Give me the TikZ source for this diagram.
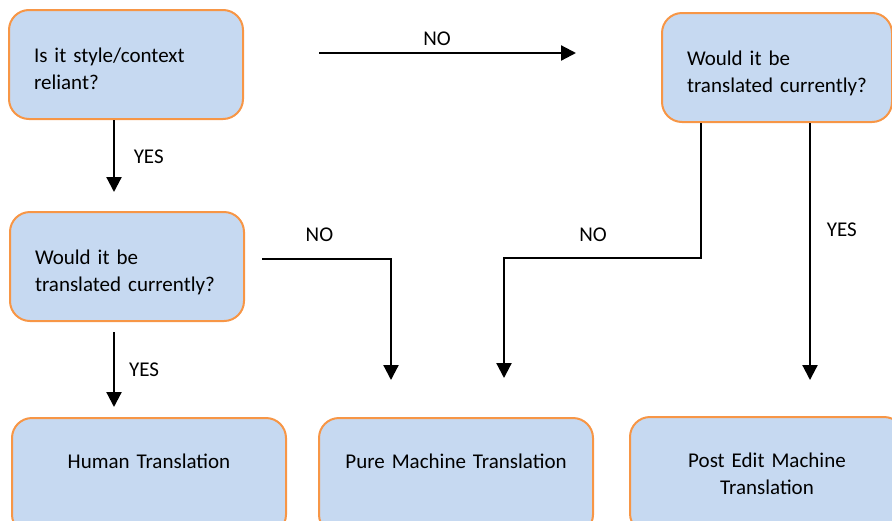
\documentclass[tikz,border=0pt]{standalone}
\usepackage{fontspec}
\setmainfont{Carlito}
\usepackage{xcolor}
\usetikzlibrary{positioning, arrows.meta}

\definecolor{boxfill}{HTML}{C6D9F1}
\definecolor{boxline}{HTML}{F79646}

\tikzset{
  qbox/.style={draw=boxline, fill=boxfill, line width=1pt, rounded corners=10pt,
    minimum width=117pt, minimum height=54.5pt, text width=92pt, inner xsep=12.5pt,
    text height=7pt, text depth=9.5pt, align=left},
  endbox/.style={draw=boxline, fill=boxfill, line width=1pt, rounded corners=10pt, anchor=north,
    text width=125pt, inner xsep=6pt, inner ysep=18pt, text depth=15pt, align=center},
  arr/.style={-{Triangle[width=7.5pt,length=7.5pt]}, line width=1.1pt}
}

\begin{document}
\begin{tikzpicture}[x=0.5pt, y=-0.5pt, font=\fontsize{10.5}{13.5}\selectfont]
			\clip (0,0) rectangle (892,520);
			
			% questions
			\node[qbox] (style) at (126,64.5) {Is it style/context\\reliant?};
			\node[qbox] (curleft) at (127,266.5) {Would it be\\translated currently?};
			\node[qbox, minimum width=115pt, text width=90pt] (curright) at (777,67.5) {Would it be\\translated currently?};
			
			% outcomes
			\node[endbox] (human) at (149,417) {Human Translation};
			\node[endbox] (pure) at (456,417) {Pure Machine Translation};
			\node[endbox] (post) at (767,416) {Post Edit Machine\\Translation};
			
			\draw[arr, shorten >=9.5pt] ([xshift=-6pt]style.south) -- ([xshift=-6pt]style.south |- curleft.north) node[pos=0.4, right=6pt] {YES};
			\draw[arr, shorten <=37.5pt, shorten >=42.5pt] ([yshift=5.75pt]style.east) -- ([yshift=5.75pt]style.east -| curright.west) node[pos=0.463, above=0pt] {NO};
			
			\draw[arr, shorten <=5pt, shorten >=5pt] ([xshift=-6.5pt]curleft.south) -- ([xshift=-6.5pt]curleft.south |- human.north) node[midway, right=3.7pt] {YES};
			\draw[arr, shorten <=8.5pt, shorten >=18.5pt] ([yshift=3.75pt]curleft.east) -| node[pos=0.255, above=5pt] {NO} ([xshift=-32.5pt]pure.north);
			
			\draw[arr, shorten >=19.5pt] ([xshift=-38pt]curright.south) -- ++(0,135) -| node[pos=0.274, above=4.5pt] {NO} ([xshift=24pt]pure.north);
			\draw[arr, shorten >=18pt] ([xshift=16.5pt]curright.south) -- ([xshift=16.5pt]curright.south |- post.north) node[pos=0.366, right=4.5pt] {YES};
\end{tikzpicture}
\end{document}
